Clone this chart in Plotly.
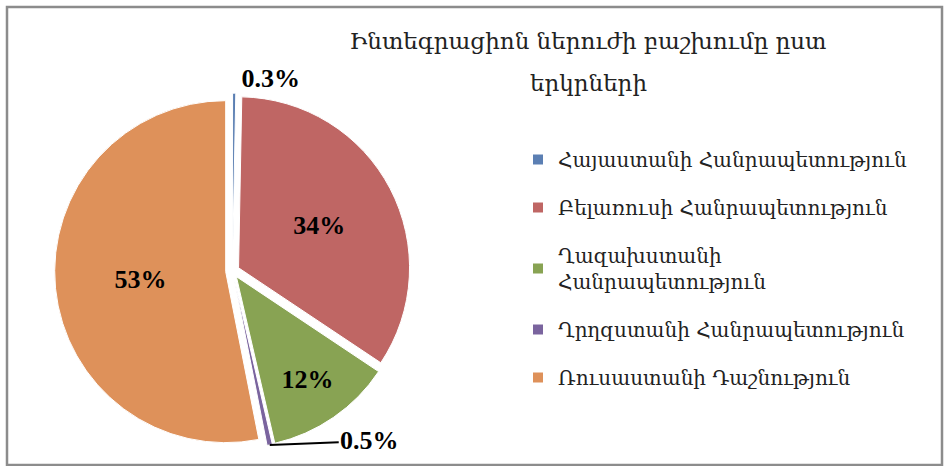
import math
import plotly.graph_objects as go

categories = [
    "Հայաստանի Հանրապետություն",
    "Բելառուսի Հանրապետություն",
    "Ղազախստանի<br>Հանրապետություն",
    "Ղրղզստանի Հանրապետություն",
    "Ռուսաստանի Դաշնություն",
]
values = [0.3, 34, 12, 0.5, 53]
colors = ["#5B7FB3", "#BF6664", "#88A353", "#7A649E", "#DE915A"]
title_lines = ["Ինտեգրացիոն ներուժի բաշխումը ըստ", "երկրների"]

W, H = 944, 466
cx, cy, r, pull = 232.5, 271, 171, 0.04
half = r * (1 + pull)

# Small slice (Kyrgyzstan) gets an external label with a leader line, as in the source.
small_idx = 3
text_pos = ["outside", "inside", "inside", "none", "inside"]

fig = go.Figure()
fig.add_trace(go.Pie(
    labels=categories,
    values=values,
    sort=False,
    direction="clockwise",
    rotation=0,
    pull=[pull] * len(values),
    marker=dict(colors=colors, line=dict(color="white", width=1)),
    texttemplate="%{value}%",
    textposition=text_pos,
    insidetextorientation="horizontal",
    textfont=dict(family="Liberation Serif", size=26, color="black", weight="bold"),
    showlegend=False,
    hoverinfo="label+value",
    domain=dict(x=[(cx - half) / W, (cx + half) / W],
                y=[(H - cy - half) / H, (H - cy + half) / H]),
))

for i, (lab, col) in enumerate(zip(categories, colors)):
    fig.add_trace(go.Scatter(
        x=[None], y=[None], mode="markers", name=lab, legendgroup=f"g{i}",
        marker=dict(symbol="square", size=10, color=col),
        showlegend=True,
    ))

# anchor of the leader line: outer tip of the small slice, from its mid-angle
total = sum(values)
mid = (sum(values[:small_idx]) + values[small_idx] / 2) / total * 2 * math.pi
tip_x = cx + (r * (1 + pull)) * math.sin(mid)
tip_y = cy - (r * (1 + pull)) * math.cos(mid)

title_font = dict(family="DejaVu Serif", size=23, color="#222")

fig.update_layout(
    width=W, height=H,
    margin=dict(l=0, r=0, t=0, b=0),
    paper_bgcolor="white", plot_bgcolor="white",
    xaxis=dict(visible=False), yaxis=dict(visible=False),
    title=dict(text=title_lines[0], x=588 / W, xanchor="center",
               y=1 - 33 / H, yanchor="top", font=title_font),
    legend=dict(x=518 / W, y=1 - 140 / H, xanchor="left", yanchor="top",
                font=dict(family="DejaVu Serif", size=20, color="#222"),
                tracegroupgap=19, bgcolor="rgba(0,0,0,0)"),
    shapes=[dict(type="rect", xref="paper", yref="paper",
                 x0=7 / W, x1=942 / W, y0=1 - 465 / H, y1=1 - 7 / H,
                 line=dict(color="#8C8C8C", width=2.5))],
    annotations=[
        dict(xref="paper", yref="paper", x=588 / W, y=1 - 83 / H,
             xanchor="center", yanchor="middle", showarrow=False,
             text=title_lines[1], font=title_font),
        dict(xref="paper", yref="paper", x=tip_x / W, y=1 - tip_y / H,
             text=f"{values[small_idx]}%", showarrow=True, arrowhead=0,
             arrowwidth=2, arrowcolor="black", ax=100, ay=-4,
             font=dict(family="Liberation Serif", size=26, color="black",
                       weight="bold")),
    ],
)

fig.write_html("out.html", config={"displayModeBar": False},
               post_script="document.body.style.margin='0';")
